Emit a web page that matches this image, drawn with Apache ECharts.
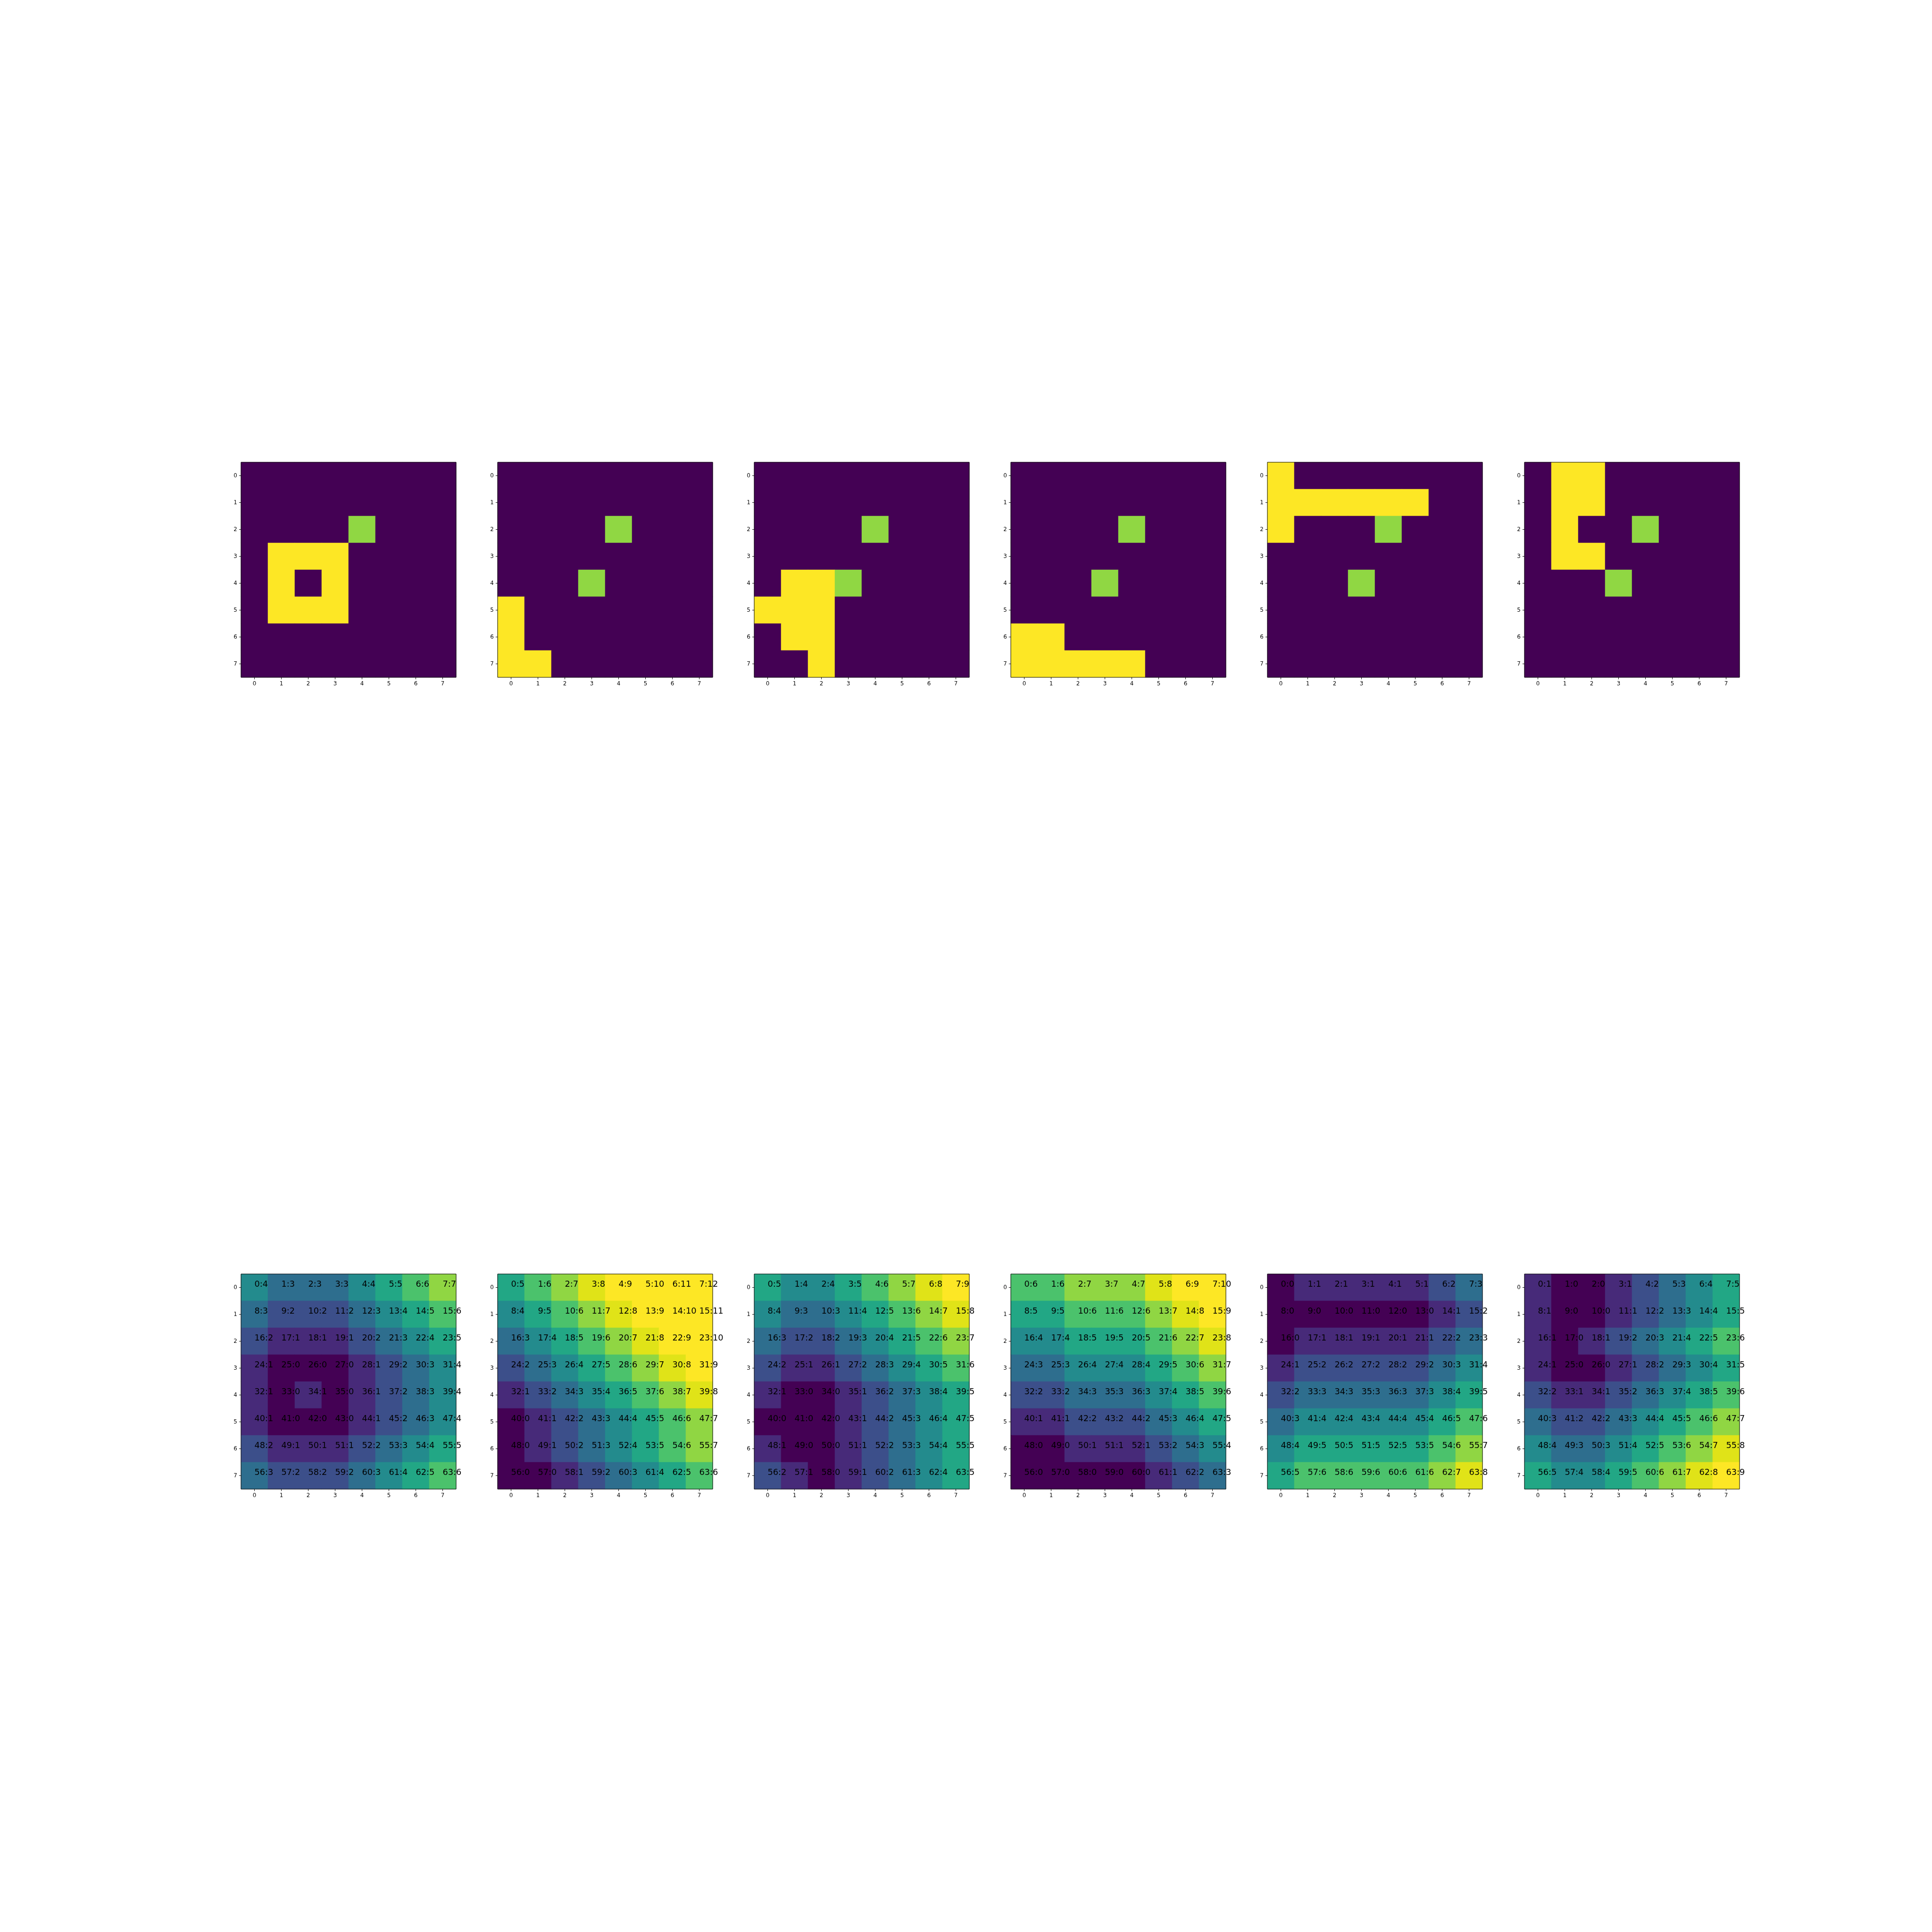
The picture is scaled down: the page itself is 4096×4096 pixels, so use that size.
<!DOCTYPE html>
<html>
<head>
<meta charset="utf-8">
<script src="https://cdn.jsdelivr.net/npm/echarts@6/dist/echarts.min.js"></script>
<style>html,body{margin:0;padding:0;background:#fff}#c{width:4096px;height:4096px}</style>
</head>
<body>
<div id="c"></div>
<script>
// ---------- data ----------
const colLabels = ['0','1','2','3','4','5','6','7'];
const rowLabels = ['0','1','2','3','4','5','6','7'];

// top row grids: '.' free cell, '#' obstacle, 'o' marker
const grid1 = ['........','........','....o...','.###....','.#.#....','.###....','........','........'];
const grid2 = ['........','........','....o...','........','...o....','#.......','#.......','##......'];
const grid3 = ['........','........','....o...','........','.##o....','###.....','.##.....','..#.....'];
const grid4 = ['........','........','....o...','........','...o....','........','##......','#####...'];
const grid5 = ['#.......','######..','#...o...','........','...o....','........','........','........'];
const grid6 = ['.##.....','.##.....','.#..o...','.##.....','...o....','........','........','........'];
const cellCode = {'.':0, '#':1, 'o':2};

// bottom row: distance values, row by row
const dist1 = [4,3,3,3,4,5,6,7, 3,2,2,2,3,4,5,6, 2,1,1,1,2,3,4,5, 1,0,0,0,1,2,3,4,
               1,0,1,0,1,2,3,4, 1,0,0,0,1,2,3,4, 2,1,1,1,2,3,4,5, 3,2,2,2,3,4,5,6];
const dist2 = [5,6,7,8,9,10,11,12, 4,5,6,7,8,9,10,11, 3,4,5,6,7,8,9,10, 2,3,4,5,6,7,8,9,
               1,2,3,4,5,6,7,8, 0,1,2,3,4,5,6,7, 0,1,2,3,4,5,6,7, 0,0,1,2,3,4,5,6];
const dist3 = [5,4,4,5,6,7,8,9, 4,3,3,4,5,6,7,8, 3,2,2,3,4,5,6,7, 2,1,1,2,3,4,5,6,
               1,0,0,1,2,3,4,5, 0,0,0,1,2,3,4,5, 1,0,0,1,2,3,4,5, 2,1,0,1,2,3,4,5];
const dist4 = [6,6,7,7,7,8,9,10, 5,5,6,6,6,7,8,9, 4,4,5,5,5,6,7,8, 3,3,4,4,4,5,6,7,
               2,2,3,3,3,4,5,6, 1,1,2,2,2,3,4,5, 0,0,1,1,1,2,3,4, 0,0,0,0,0,1,2,3];
const dist5 = [0,1,1,1,1,1,2,3, 0,0,0,0,0,0,1,2, 0,1,1,1,1,1,2,3, 1,2,2,2,2,2,3,4,
               2,3,3,3,3,3,4,5, 3,4,4,4,4,4,5,6, 4,5,5,5,5,5,6,7, 5,6,6,6,6,6,7,8];
const dist6 = [1,0,0,1,2,3,4,5, 1,0,0,1,2,3,4,5, 1,0,1,2,3,4,5,6, 1,0,0,1,2,3,4,5,
               2,1,1,2,3,4,5,6, 3,2,2,3,4,5,6,7, 4,3,3,4,5,6,7,8, 5,4,4,5,6,7,8,9];

const topGrids = [grid1, grid2, grid3, grid4, grid5, grid6];
const distMaps = [dist1, dist2, dist3, dist4, dist5, dist6];

// colours
const topColors = ['#440154', '#fde725', '#90d743'];
const distColors = ['#440154','#472a79','#3c4f8a','#2e6e8e','#238b8d','#22a785','#4bc26c','#90d643','#e0e318'];
const distMaxColor = '#fde725';

// ---------- layout (matplotlib 2x6 subplots, scaled) ----------
const S = 4096 / 4800;
const FIG = 4800;
const axW = FIG * (0.9 - 0.125) / (6 + 5 * 0.2);   // square image width
const pitch = axW * 1.2;
const rowH = FIG * (0.88 - 0.11) / (2 + 0.2);
const rowCenters = [FIG * 0.12 + rowH / 2, FIG * 0.12 + rowH * 1.2 + rowH / 2];
const boxPx = 8 * Math.round(axW * S / 8);          // whole-pixel cells avoid seams

const grids = [], xAxes = [], yAxes = [], series = [];
const tickFont = 13.89 * S;
const cellFont = 20.8 * S;

function addPanel(row, i, data, isDist) {
  const idx = grids.length;
  const cx = (FIG * 0.125 + i * pitch + axW / 2) * S;
  const cy = rowCenters[row] * S;
  grids.push({
    left: Math.round(cx - boxPx / 2),
    top: Math.round(cy - boxPx / 2),
    width: boxPx,
    height: boxPx,
    show: true,
    borderColor: '#000',
    borderWidth: 1,
    backgroundColor: 'transparent',
    z: 10,
    containLabel: false,
    outerBoundsMode: 'none'
  });
  const axCommon = {
    type: 'category',
    gridIndex: idx,
    boundaryGap: true,
    axisLine: { show: false },
    axisTick: { show: true, alignWithLabel: true, length: 4.86 * S, lineStyle: { color: '#000', width: 0.95 } },
    axisLabel: { show: true, margin: 9.7 * S, fontSize: tickFont, color: '#000', fontFamily: 'DejaVu Sans' },
    splitLine: { show: false },
    z: 10
  };
  xAxes.push(Object.assign({}, axCommon, { data: colLabels, position: 'bottom' }));
  yAxes.push(Object.assign({}, axCommon, { data: rowLabels, inverse: true, position: 'left' }));
  const s = {
    type: 'heatmap',
    xAxisIndex: idx,
    yAxisIndex: idx,
    data: data,
    silent: true,
    emphasis: { disabled: true },
    itemStyle: { borderWidth: 0 },
    progressive: 0,
    animation: false
  };
  if (isDist) {
    s.label = {
      show: true,
      position: 'inside',
      align: 'left',
      verticalAlign: 'middle',
      offset: [0, -7.3 * S],
      fontSize: cellFont,
      fontFamily: 'DejaVu Sans',
      color: '#000',
      formatter: p => (p.value[1] * 8 + p.value[0]) + ':' + p.value[2]
    };
  } else {
    s.label = { show: false };
  }
  series.push(s);
}

topGrids.forEach((g, i) => {
  const data = [];
  g.forEach((line, r) => {
    line.split('').forEach((ch, c) => data.push([c, r, cellCode[ch]]));
  });
  addPanel(0, i, data, false);
});
distMaps.forEach((d, i) => {
  const data = [];
  d.forEach((v, k) => data.push([k % 8, Math.floor(k / 8), v]));
  addPanel(1, i, data, true);
});

const option = {
  backgroundColor: '#fff',
  animation: false,
  grid: grids,
  xAxis: xAxes,
  yAxis: yAxes,
  visualMap: [
    {
      type: 'piecewise', show: false, dimension: 2,
      seriesIndex: [0, 1, 2, 3, 4, 5],
      pieces: topColors.map((c, v) => ({ value: v, color: c }))
    },
    {
      type: 'piecewise', show: false, dimension: 2,
      seriesIndex: [6, 7, 8, 9, 10, 11],
      pieces: distColors.map((c, v) => ({ value: v, color: c })).concat([{ gte: distColors.length, color: distMaxColor }])
    }
  ],
  series: series
};

const chart = echarts.init(document.getElementById('c'), null, { renderer: 'canvas', width: 4096, height: 4096 });
chart.setOption(option);
</script>
</body>
</html>
